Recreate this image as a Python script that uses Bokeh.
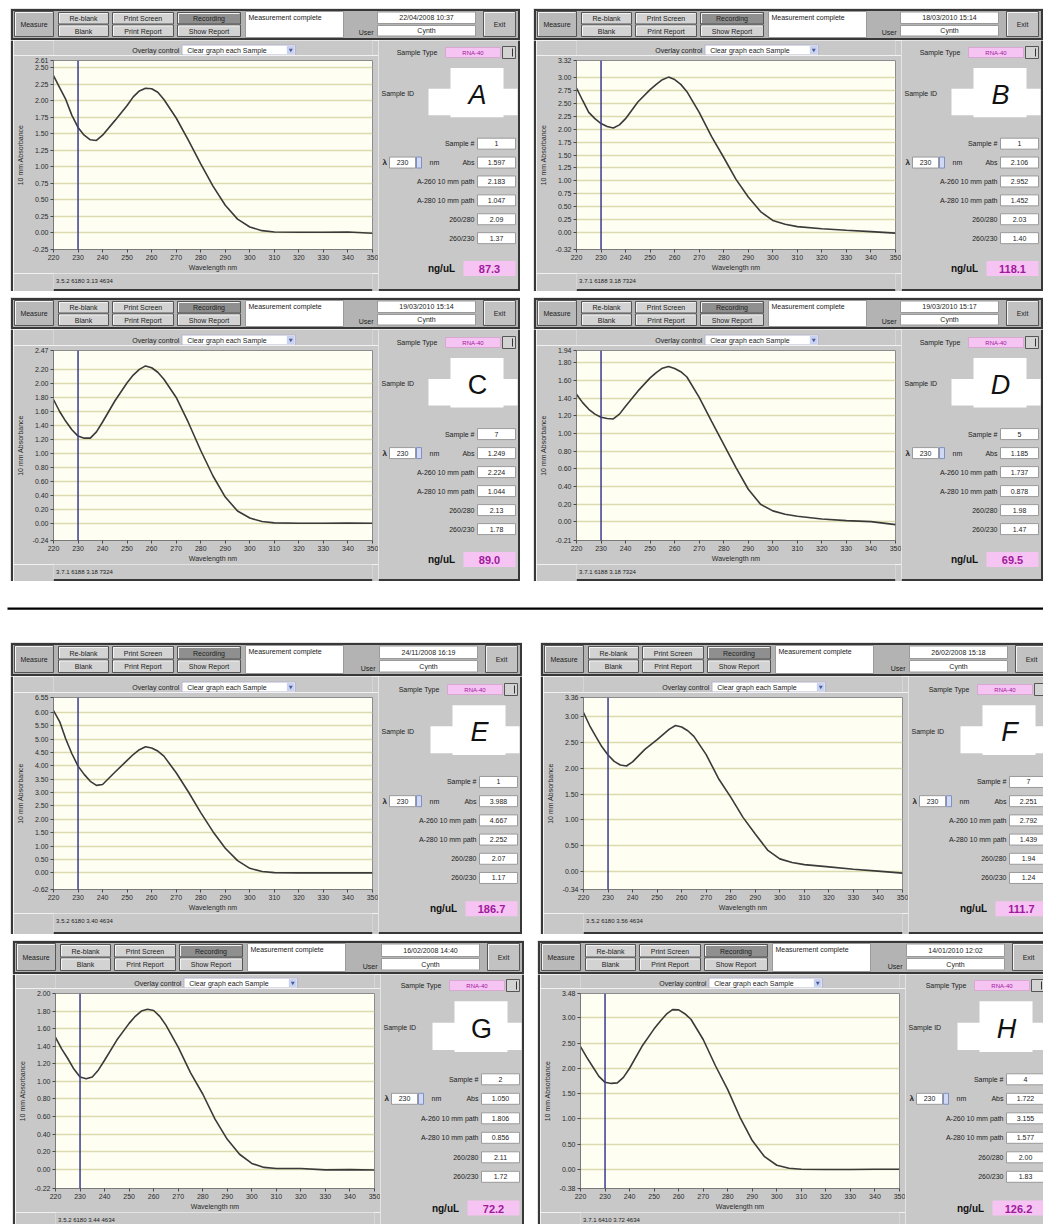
from bokeh.plotting import figure
from bokeh.layouts import row, column
from bokeh.models import Range1d, FixedTicker, PrintfTickFormatter, Span, Spacer
from bokeh.core.properties import value
from bokeh.embed import file_html
from bokeh.resources import INLINE
import math

# ---------------------------------------------------------------------------
# Spectra: absorbance (10 mm path) against wavelength, one list per sample
# ---------------------------------------------------------------------------
WAVELENGTHS = [220, 222.5, 225, 227.5, 230, 232.5, 235, 237.5, 240,
               245, 250, 252.5, 255, 257.5, 260, 262.5, 265,
               270, 275, 280, 285, 290, 295, 300, 305, 310,
               320, 330, 340, 350]

ABS_A = [2.38, 2.20, 2.02, 1.78, 1.597, 1.48, 1.41, 1.40, 1.48,
         1.70, 1.93, 2.06, 2.15, 2.19, 2.183, 2.13, 2.02,
         1.74, 1.40, 1.047, 0.71, 0.42, 0.21, 0.09, 0.035, 0.015,
         0.01, 0.01, 0.015, -0.005]
ABS_B = [2.79, 2.55, 2.32, 2.20, 2.106, 2.05, 2.02, 2.08, 2.20,
         2.52, 2.76, 2.86, 2.95, 3.00, 2.952, 2.86, 2.72,
         2.32, 1.86, 1.452, 1.03, 0.69, 0.41, 0.24, 0.165, 0.12,
         0.08, 0.05, 0.025, -0.005]
ABS_C = [1.77, 1.60, 1.46, 1.34, 1.249, 1.22, 1.22, 1.31, 1.45,
         1.75, 2.01, 2.12, 2.20, 2.25, 2.224, 2.16, 2.06,
         1.80, 1.44, 1.044, 0.68, 0.38, 0.18, 0.08, 0.03, 0.012,
         0.005, 0.005, 0.008, 0.005]
ABS_D = [1.445, 1.35, 1.275, 1.22, 1.185, 1.17, 1.165, 1.22, 1.31,
         1.48, 1.63, 1.69, 1.74, 1.76, 1.737, 1.70, 1.64,
         1.41, 1.14, 0.878, 0.615, 0.37, 0.20, 0.125, 0.087, 0.064,
         0.034, 0.015, 0.004, -0.03]
ABS_E = [6.06, 5.65, 5.00, 4.45, 3.988, 3.68, 3.42, 3.27, 3.30,
         3.76, 4.20, 4.42, 4.60, 4.71, 4.667, 4.55, 4.36,
         3.74, 3.02, 2.252, 1.54, 0.92, 0.46, 0.17, 0.05, 0.01,
         0.0, 0.0, 0.0, 0.0]
ABS_F = [3.07, 2.82, 2.61, 2.41, 2.251, 2.13, 2.06, 2.04, 2.12,
         2.36, 2.55, 2.65, 2.75, 2.82, 2.792, 2.72, 2.61,
         2.26, 1.80, 1.439, 1.05, 0.73, 0.42, 0.25, 0.18, 0.14,
         0.096, 0.05, 0.015, -0.025]
ABS_G = [1.50, 1.37, 1.26, 1.14, 1.050, 1.03, 1.05, 1.13, 1.24,
         1.47, 1.66, 1.74, 1.80, 1.82, 1.806, 1.74, 1.64,
         1.39, 1.10, 0.856, 0.57, 0.34, 0.17, 0.065, 0.02, 0.008,
         0.008, -0.008, -0.005, -0.01]
ABS_H = [2.43, 2.22, 2.03, 1.84, 1.722, 1.70, 1.71, 1.82, 2.00,
         2.43, 2.78, 2.93, 3.07, 3.16, 3.155, 3.08, 2.97,
         2.57, 2.05, 1.577, 1.03, 0.57, 0.25, 0.08, 0.02, 0.0,
         -0.005, -0.005, 0.0, 0.0]

SPECTRA = [ABS_A, ABS_B, ABS_C, ABS_D, ABS_E, ABS_F, ABS_G, ABS_H]

SAMPLE_IDS = ["A", "B", "C", "D", "E", "F", "G", "H"]
ID_ITALIC = [True, True, False, True, True, True, False, True]
SAMPLE_NUMBERS = ["1", "1", "7", "5", "1", "7", "2", "4"]
TIMESTAMPS = ["22/04/2008 10:37", "18/03/2010 15:14", "19/03/2010 15:14",
              "19/03/2010 15:17", "24/11/2008 16:19", "26/02/2008 15:18",
              "16/02/2008 14:40", "14/01/2010 12:02"]
USERS = ["Cynth"] * 8
STATUS_LINES = ["3.5.2 6180 3.13 4634", "3.7.1 6188 3.18 7324",
                "3.7.1 6188 3.18 7324", "3.7.1 6188 3.18 7324",
                "3.5.2 6180 3.40 4634", "3.5.2 6180 3.56 4634",
                "3.5.2 6180 3.44 4634", "3.7.1 6410 3.72 4634"]

# y-axis extent and gridline step of each spectrum window
Y_MIN = [-0.25, -0.32, -0.24, -0.21, -0.62, -0.34, -0.22, -0.38]
Y_MAX = [2.61, 3.32, 2.47, 1.94, 6.55, 3.36, 2.00, 3.48]
Y_STEP = [0.25, 0.25, 0.20, 0.20, 0.50, 0.50, 0.20, 0.50]

X_TICKS = [220, 230, 240, 250, 260, 270, 280, 290, 300, 310, 320, 330, 340, 350]
LAMBDA_NM = 230
RNA_FACTOR = 40          # ng/uL per A260 unit for RNA
SAMPLE_TYPE = "RNA-40"

# ---------------------------------------------------------------------------
# Window geometry (pixels, window-local)
# ---------------------------------------------------------------------------
GEOM = [
    dict(W=510, vis_w=510, H=283, vis_h=283, TB=32, ft=52, FH=189),   # A
    dict(W=510, vis_w=510, H=283, vis_h=283, TB=32, ft=52, FH=189),   # B
    dict(W=510, vis_w=510, H=284, vis_h=284, TB=32, ft=53, FH=190),   # C
    dict(W=510, vis_w=510, H=284, vis_h=284, TB=32, ft=53, FH=190),   # D
    dict(W=512, vis_w=512, H=292, vis_h=292, TB=34, ft=55, FH=192),   # E
    dict(W=512, vis_w=503, H=292, vis_h=292, TB=34, ft=55, FH=192),   # F
    dict(W=512, vis_w=512, H=292, vis_h=284, TB=34, ft=53, FH=195),   # G
    dict(W=512, vis_w=506, H=292, vis_h=284, TB=34, ft=53, FH=195),   # H
]
CW = 365            # width of the spectrum figure (axes + plot area)
LEFT = 3            # width of the left window edge strip
SIDE_X0 = LEFT + CW

FONT = "Liberation Sans"
PANEL_BG = "#c8c8c8"
BAR_BG = "#b3b3b3"
BTN_FACE = "#d3d3d3"
BTN_DOWN = "#8f8f8f"
EDGE = "#555555"
DARK = "#383838"
BOX_EDGE = "#9a9a9a"
PINK = "#f6c4f2"
PURPLE = "#a0189c"
CREAM = "#fefef2"
GRID = "#dcdbb0"
CURVE = "#3a3a3a"
MARKER_LINE = "#3b3b8f"
TEXT = "#222222"


def canvas(w, h, x0, x1, y0, y1, bg=PANEL_BG):
    """Axis-less drawing surface with y increasing downwards."""
    p = figure(width=w, height=h, x_range=Range1d(x0, x1), y_range=Range1d(y1, y0),
               tools="", toolbar_location=None, output_backend="svg",
               min_border=0, x_axis_location=None, y_axis_location=None,
               background_fill_color=bg, border_fill_color=bg, outline_line_color=None)
    p.grid.visible = False
    return p


def box(p, l, t, r, b, fill, line=None, lw=1.0):
    p.quad(left=[l], right=[r], top=[t], bottom=[b], fill_color=fill,
           line_color=line, line_width=lw)


def label(p, x, y, s, size=7, align="left", color=TEXT, style="normal"):
    p.text(x=[x], y=[y], text=[s], text_font=value(FONT), text_font_size=f"{size}px",
           text_align=align, text_baseline="middle", text_color=color,
           text_font_style=style)


def button(p, l, t, r, b, s, face=BTN_FACE, color=TEXT):
    box(p, l, t, r, b, face, EDGE)
    p.line([l + 1, l + 1, r - 1], [b - 1, t + 1, t + 1], line_color="#f4f4f4", line_width=1)
    label(p, (l + r) / 2, (t + b) / 2 + 0.5, s, align="center", color=color)


def toolbar_fig(g, i):
    W, TB = g["W"], g["TB"]
    cut_right = g["vis_w"] < W
    p = canvas(g["vis_w"], TB, 0, g["vis_w"], 0, TB)
    box(p, 2, 2, W - 2, TB - 2, BAR_BG)
    button(p, 4, 3, 43, TB - 4, "Measure", face="#b9b9b9")
    mid = TB / 2
    cols = [(48, 98, "Re-blank", "Blank"),
            (102, 163, "Print Screen", "Print Report"),
            (167, 230, "Recording", "Show Report")]
    for l, r, s1, s2 in cols:
        button(p, l, 4, r, mid - 0.5, s1, face=BTN_DOWN if s1 == "Recording" else BTN_FACE)
        button(p, l, mid + 0.5, r, TB - 4, s2)
    box(p, 235, 3, 333, TB - 3, "#ffffff", BOX_EDGE)
    label(p, 238, 8.5, "Measurement complete")
    label(p, W - 147, TB - 8, "User", align="right")
    box(p, W - 143, 3.5, W - 45, mid - 1, "#ffffff", BOX_EDGE)
    label(p, W - 94, (2.5 + mid) / 2, TIMESTAMPS[i], align="center")
    box(p, W - 143, mid + 1, W - 45, TB - 4.5, "#ffffff", BOX_EDGE)
    label(p, W - 94, (mid + TB - 3.5) / 2, USERS[i], align="center")
    button(p, W - 37, 3, W - 5, TB - 4, "Exit", face="#c2c2c2")
    # window frame
    box(p, 0.5, 0.5, W - 0.5, 2.5, DARK)
    box(p, 0.5, 0.5, 2.5, TB, DARK)
    if not cut_right:
        box(p, W - 2.5, 0.5, W - 0.5, TB, DARK)
    box(p, 0.5, TB - 2.5, W - 0.5, TB - 0.5, DARK)
    return p


def strip_fig(g):
    p = canvas(LEFT, g["vis_h"] - g["TB"], 0, LEFT, g["TB"], g["vis_h"])
    box(p, 0.5, g["TB"], 2.5, g["vis_h"], DARK)
    return p


def overlay_fig(g):
    TB, ft = g["TB"], g["ft"]
    p = canvas(CW, ft - 5 - TB, LEFT, LEFT + CW, TB, ft - 5)
    yc = ft - 10.5
    label(p, 147, yc, "Overlay control", align="right")
    box(p, 150, yc - 5, 280, yc + 5, "#ffffff", "#b4b4cc")
    label(p, 156, yc, "Clear graph each Sample")
    box(p, 270, yc - 4, 279, yc + 4, "#c9d3f0", None)
    p.scatter([274.5], [yc], marker="inverted_triangle", size=4,
              fill_color="#4a5a9a", line_color=None)
    return p


def y_ticks(i):
    lo, hi, st = Y_MIN[i], Y_MAX[i], Y_STEP[i]
    ticks = [lo, hi]
    for k in range(math.ceil(lo / st), math.floor(hi / st) + 1):
        t = round(k * st, 4)
        if t - lo > 0.4 * st and hi - t > 0.4 * st:
            ticks.append(t)
    return sorted(ticks)


def chart_fig(g, i):
    p = figure(width=CW, height=5 + g["FH"] + 24,
               x_range=Range1d(WAVELENGTHS[0], WAVELENGTHS[-1]),
               y_range=Range1d(Y_MIN[i], Y_MAX[i]),
               tools="", toolbar_location=None, output_backend="svg",
               min_border_left=40, min_border_right=6, min_border_top=5, min_border_bottom=24,
               background_fill_color=CREAM, border_fill_color=PANEL_BG,
               outline_line_color="#8c8c8c")
    yt = FixedTicker(ticks=y_ticks(i))
    p.yaxis.ticker = yt
    p.yaxis.formatter = PrintfTickFormatter(format="%.2f")
    p.ygrid.ticker = yt
    p.ygrid.grid_line_color = GRID
    p.ygrid.grid_line_width = 1.5
    p.xgrid.visible = False
    p.xaxis.ticker = FixedTicker(ticks=X_TICKS)
    for ax in (p.xaxis[0], p.yaxis[0]):
        ax.major_label_text_font = FONT
        ax.major_label_text_font_size = "7px"
        ax.major_label_text_color = "#2a2a2a"
        ax.axis_label_text_font = FONT
        ax.axis_label_text_font_size = "7px"
        ax.axis_label_text_font_style = "normal"
        ax.axis_label_text_color = "#2a2a2a"
        ax.major_tick_in = 0
        ax.major_tick_out = 3
        ax.minor_tick_in = 0
        ax.minor_tick_out = 0
        ax.axis_line_color = "#7a7a7a"
        ax.major_tick_line_color = "#4a4a4a"
        ax.major_label_standoff = 2
    p.xaxis.axis_label = "Wavelength nm"
    p.yaxis.axis_label = "10 mm Absorbance"
    p.xaxis.axis_label_standoff = 1
    p.yaxis.axis_label_standoff = 6
    p.add_layout(Span(location=LAMBDA_NM, dimension="height",
                      line_color=MARKER_LINE, line_width=1.5))
    p.line(WAVELENGTHS, SPECTRA[i], line_color=CURVE, line_width=1.6)
    return p


def status_fig(g, i):
    top = g["ft"] + g["FH"] + 24
    p = canvas(CW, g["vis_h"] - top, LEFT, LEFT + CW, top, g["vis_h"])
    label(p, 6, top + 7, STATUS_LINES[i], size=6)
    if g["vis_h"] == g["H"]:
        box(p, LEFT, g["H"] - 2.5, LEFT + CW, g["H"] - 0.5, DARK)
    return p


def side_fig(g, i):
    W, TB, ft, FH = g["W"], g["TB"], g["ft"], g["FH"]
    vw, vh = g["vis_w"], g["vis_h"]
    p = canvas(vw - SIDE_X0, vh - TB, SIDE_X0, vw, TB, vh)
    spec = SPECTRA[i]
    a230 = spec[WAVELENGTHS.index(LAMBDA_NM)]
    a260 = spec[WAVELENGTHS.index(260)]
    a280 = spec[WAVELENGTHS.index(280)]

    ys = ft - 8
    label(p, W - 83, ys, "Sample Type", align="right")
    box(p, W - 75, ys - 5, W - 20, ys + 5, PINK, "#d6a8d2")
    label(p, W - 47.5, ys, SAMPLE_TYPE, align="center", color=PURPLE, size=6)
    box(p, W - 18, ys - 6, W - 5, ys + 6, BTN_FACE, EDGE)
    p.line([W - 8, W - 8], [ys - 4, ys + 4], line_color="#333333", line_width=1)

    yid = ft + 0.175 * FH
    label(p, 371, yid, "Sample ID")
    box(p, W - 70, ft + 0.04 * FH, W - 17, ft + 0.30 * FH, "#ffffff")
    box(p, W - 92, ft + 0.15 * FH, W - 3, ft + 0.29 * FH, "#ffffff")
    label(p, W - 43, yid + 1, SAMPLE_IDS[i], size=27, align="center", color="#111111",
          style="italic" if ID_ITALIC[i] else "normal")

    rows = [("Sample #", SAMPLE_NUMBERS[i]),
            ("Abs", f"{a230:.3f}"),
            ("A-260 10 mm path", f"{a260:.3f}"),
            ("A-280 10 mm path", f"{a280:.3f}"),
            ("260/280", f"{a260 / a280:.2f}"),
            ("260/230", f"{a260 / a230:.2f}")]
    for k, (name, val) in enumerate(rows):
        y = ft + FH * (0.44 + 0.1 * k)
        label(p, W - 46, y, name, align="right")
        box(p, W - 43, y - 5.5, W - 5, y + 5.5, "#ffffff", BOX_EDGE)
        label(p, W - 24, y, val, align="center")
        if name == "Abs":
            label(p, 372, y, "\u03bb", size=8, style="bold")
            box(p, 379, y - 5.5, 405, y + 5.5, "#ffffff", BOX_EDGE)
            label(p, 392, y, str(LAMBDA_NM), align="center")
            box(p, 406, y - 5.5, 411, y + 5.5, "#d0d8f4", "#8090c0")
            label(p, 419, y, "nm")

    yn = ft + 1.10 * FH
    label(p, W - 79, yn, "ng/uL", size=10, align="center", style="bold", color="#111111")
    box(p, W - 57, yn - 7.5, W - 5, yn + 7.5, PINK)
    label(p, W - 31, yn + 0.5, f"{a260 * RNA_FACTOR:.1f}", size=11, align="center",
          style="bold", color=PURPLE)

    if vw == W:
        box(p, W - 2.5, TB, W - 0.5, vh, DARK)
    if vh == g["H"]:
        box(p, SIDE_X0, g["H"] - 2.5, W - 0.5, g["H"] - 0.5, DARK)
    return p


def window(i):
    g = GEOM[i]
    left_col = column(overlay_fig(g), chart_fig(g, i), status_fig(g, i))
    return column(toolbar_fig(g, i), row(strip_fig(g), left_col, side_fig(g, i)))


def gap(w, h):
    return Spacer(width=w, height=h)


separator = canvas(1043, 61, 0, 1043, 0, 61, bg="#ffffff")
box(separator, 7, 26, 1043, 28.2, "#000000")

page = column(
    gap(1043, 8),
    row(gap(10, 283), window(0), gap(13, 283), window(1)),
    gap(1043, 6),
    row(gap(10, 284), window(2), gap(13, 284), window(3)),
    separator,
    row(gap(10, 292), window(4), gap(18, 292), window(5)),
    gap(1043, 6),
    row(gap(12, 284), window(6), gap(13, 284), window(7)),
)

open("out.html", "w").write(file_html(page, INLINE))
